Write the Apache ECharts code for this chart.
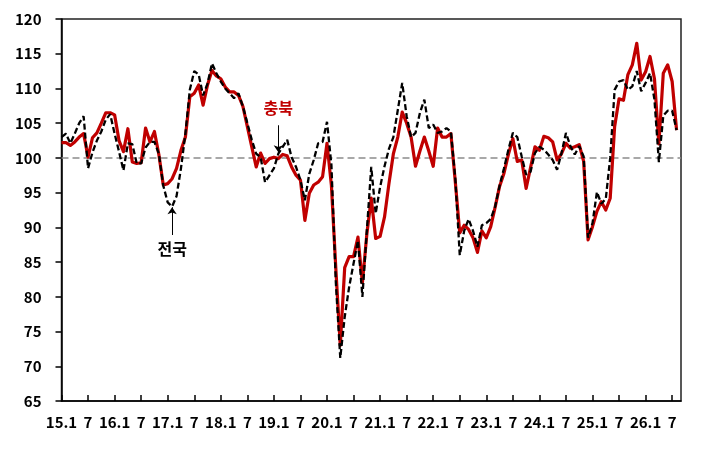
<!DOCTYPE html>
<html><head><meta charset="utf-8">
<script src="https://cdn.jsdelivr.net/npm/echarts@6/dist/echarts.min.js"></script>
<style>html,body{margin:0;padding:0;background:#fff}#c{width:710px;height:462px}</style>
</head><body><div id="c"></div>
<script>
// Categories: monthly, 2015.1 .. 2026.9
const startYear = 15, endYear = 26, lastMonth = 9;
const categories = [];
for (let y = startYear; y <= endYear; y++) {
  for (let m = 1; m <= 12; m++) {
    if (y === endYear && m > lastMonth) break;
    categories.push(y + '.' + m);
  }
}
// 충북 (red)
const chungbuk = [
102.2,102.2,101.8,102.3,103.0,103.5,100.1,102.9,103.6,105.0,106.5,106.5,
106.2,102.5,100.9,104.2,99.4,99.2,99.3,104.3,102.3,103.8,100.5,96.1,
96.3,97.0,98.5,101.1,103.0,108.8,109.3,110.5,107.6,110.5,112.6,111.8,
111.4,110.2,109.5,109.5,109.0,107.4,104.5,101.6,98.7,100.7,99.2,99.9,
100.1,99.9,100.5,100.3,98.7,97.5,96.8,91.0,94.9,96.1,96.5,97.3,
102.1,96.0,84.0,73.0,84.2,85.8,85.8,88.6,82.0,89.0,94.2,88.4,
88.7,91.5,96.3,100.6,103.0,106.6,105.0,103.0,98.8,101.0,103.0,101.0,
98.8,104.3,103.0,103.0,103.5,96.5,89.2,90.3,89.7,88.5,86.4,89.5,
88.5,90.1,92.9,95.9,97.8,100.5,102.8,99.5,99.7,95.6,98.6,101.6,
101.1,103.1,102.9,102.3,99.7,100.6,102.1,101.4,101.6,101.9,99.5,88.2,
90.1,92.3,93.7,92.5,94.2,104.5,108.5,108.3,112.0,113.4,116.5,111.2,
112.4,114.6,111.4,102.0,112.2,113.4,111.0,104.0
];
// 전국 (black dashed)
const national = [
103.0,103.5,102.1,103.5,105.0,106.0,98.5,100.8,102.5,103.8,105.5,106.3,
103.5,100.9,98.2,102.1,102.0,99.2,99.2,101.5,102.3,102.3,100.6,96.0,
93.6,93.0,94.5,98.5,103.5,109.8,112.5,112.0,109.0,110.7,113.6,112.2,
111.0,110.0,109.3,108.6,109.3,107.4,105.0,102.6,100.6,100.1,96.5,97.5,
98.5,100.6,101.6,102.6,100.1,98.7,96.8,93.9,97.7,99.7,102.1,102.3,
105.2,99.0,82.0,71.2,77.1,81.4,84.8,88.1,80.0,89.5,98.7,92.0,
95.8,98.8,101.3,103.0,106.9,110.8,106.0,103.0,103.6,106.5,108.4,104.3,
104.8,103.6,103.8,104.3,103.8,97.0,86.0,89.5,91.2,89.5,87.2,90.3,
90.6,91.2,93.0,96.0,98.5,101.2,103.6,103.0,100.2,97.6,98.0,100.7,
101.6,101.2,100.5,99.7,98.3,100.7,103.6,101.7,100.5,101.7,100.2,88.5,
90.6,95.1,93.4,94.1,100.0,109.8,111.0,111.2,109.8,110.3,112.5,109.6,
110.8,112.2,108.4,99.4,106.1,106.8,106.8,104.0
];
const yTicks = {min: 65, max: 120, step: 5};
const refLevel = 100;
const labelChungbuk = '충북', labelNational = '전국';
const arrowChungbuk = {cat: '19.2', from: 104.7, to: 100.8};
const arrowNational = {cat: '17.2', from: 88.9, to: 92.9};

const FONT = "'Noto Sans CJK KR','Noto Sans',sans-serif";
const chart = echarts.init(document.getElementById('c'), null, {renderer: 'canvas'});
chart.setOption({
  animation: false,
  textStyle: {fontFamily: FONT},
  grid: {left: 61.5, right: 29, top: 19, bottom: 61, show: true, borderColor: '#222', borderWidth: 1.5, backgroundColor: 'transparent'},
  xAxis: {
    type: 'category', data: categories, boundaryGap: false,
    axisLine: {lineStyle: {color: '#000', width: 1.5}},
    axisTick: {show: true, inside: true, length: 6, interval: 5, lineStyle: {color: '#000', width: 1.5}},
    axisLabel: {interval: 5, margin: 14, color: '#000', fontSize: 15, fontWeight: 'bold', fontFamily: FONT,
      formatter: v => { const p = v.split('.'); return p[1] === '1' ? v : p[1]; }},
    splitLine: {show: false}
  },
  yAxis: {
    type: 'value', min: yTicks.min, max: yTicks.max, interval: yTicks.step,
    axisLine: {show: true, lineStyle: {color: '#000', width: 1.5}},
    axisTick: {show: true, inside: false, length: 6, lineStyle: {color: '#000', width: 1.5}},
    axisLabel: {margin: 20, color: '#000', fontSize: 15, fontWeight: 'bold', fontFamily: FONT},
    splitLine: {show: false}
  },
  series: [
    {
      name: labelChungbuk, type: 'line', data: chungbuk, symbol: 'none', z: 3,
      lineStyle: {color: '#C00000', width: 3.2, join: 'round'},
      markLine: {
        silent: true, symbol: ['none', 'none'], z: 1,
        lineStyle: {color: '#8c8c8c', width: 1.5, type: [7, 4]},
        label: {show: false},
        data: [{yAxis: refLevel}]
      }
    },
    {
      name: labelNational, type: 'line', data: national, symbol: 'none', z: 4,
      lineStyle: {color: '#000', width: 2.3, type: [6, 3]},
      markLine: {
        silent: true, symbol: ['none', 'arrow'], symbolSize: 7,
        lineStyle: {color: '#000', width: 1, type: 'solid'},
        data: [
          [{coord: [arrowChungbuk.cat, arrowChungbuk.from],
            label: {show: true, position: 'start', distance: 9, formatter: labelChungbuk, color: '#C00000', fontSize: 16, fontWeight: 'bold', fontFamily: FONT}},
           {coord: [arrowChungbuk.cat, arrowChungbuk.to]}],
          [{coord: [arrowNational.cat, arrowNational.from],
            label: {show: true, position: 'start', distance: 6, formatter: labelNational, color: '#000', fontSize: 16, fontWeight: 'bold', fontFamily: FONT}},
           {coord: [arrowNational.cat, arrowNational.to]}]
        ]
      }
    }
  ]
});
</script></body></html>
